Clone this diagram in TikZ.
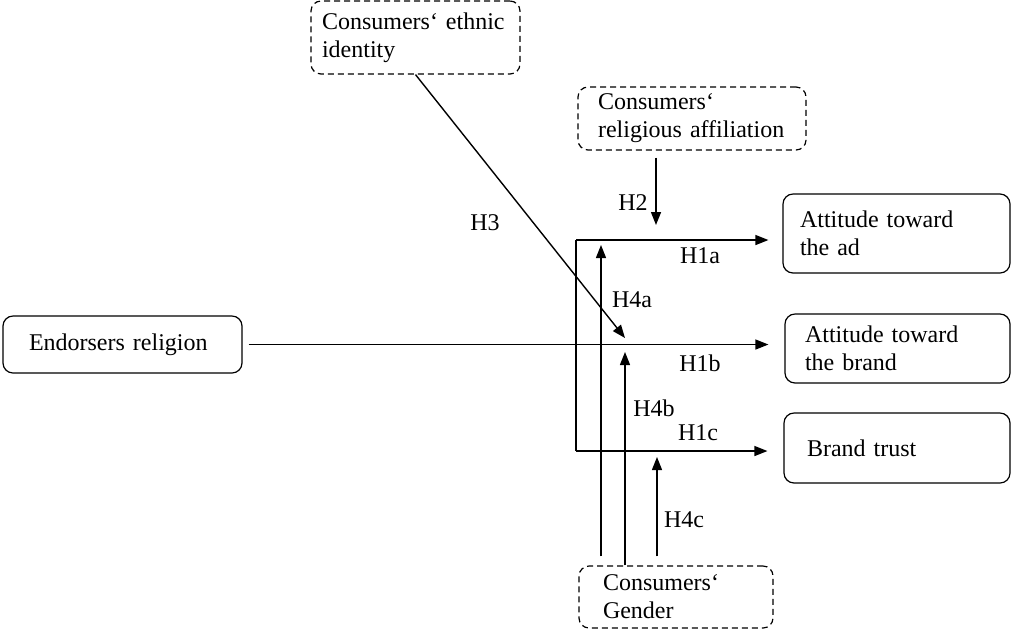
\documentclass[tikz,border=0pt]{standalone}
\usepackage{fontspec}
\setmainfont{Liberation Serif}
\usetikzlibrary{arrows.meta}

\begin{document}
\begin{tikzpicture}[x=0.5pt, y=-0.5pt,
    font=\fontsize{12}{14}\selectfont,
    box/.style={rectangle, draw, rounded corners=5pt, line width=0.6pt, align=left, inner ysep=1pt},
    dbox/.style={box, dash pattern=on 3pt off 2pt},
    arr/.style={-{Triangle[length=6.5pt,width=5pt]}, line width=0.7pt},
    lbl/.style={inner sep=0pt}]
    \useasboundingbox (0,0) rectangle (1011,634);

    % Draw nodes
    \node[dbox, text width=93.5pt, inner xsep=5.5pt, minimum height=36.5pt] (ethnic) at (415.5,37.5) {Consumers‘ ethnic\\identity};
    \node[dbox, text width=94pt, inner xsep=10pt, minimum height=31.5pt] (relig) at (692,118.5) {Consumers‘\\religious affiliation};
    \node[box, text width=93.5pt, inner xsep=13pt, minimum height=28.5pt] (endorse) at (122.5,344.5) {Endorsers religion};
    \node[box, text width=96.5pt, inner xsep=8.5pt, minimum height=39.5pt] (ad) at (896.5,233.5) {Attitude toward\\the ad};
    \node[box, text width=92.5pt, inner xsep=10pt, minimum height=34.5pt] (brand) at (897.5,348.5) {Attitude toward\\the brand};
    \node[box, text width=90pt, inner xsep=11.5pt, minimum height=35pt] (trust) at (897,448) {Brand trust};
    \node[dbox, text width=73pt, inner xsep=12pt, minimum height=31pt] (gender) at (676,597) {Consumers‘\\Gender};

    % Free ends
    \coordinate (bt) at (576,240);
    \coordinate (bb) at (576,451);
    \coordinate (h2e) at (656,225);
    \coordinate (h3e) at (625,338);
    \coordinate (g4a) at (601,245);
    \coordinate (g4b) at (625,352);
    \coordinate (g4c) at (657,457);

    % Draw connections
    \draw[line width=0.7pt] (bt) -- (bb);
    \draw[arr, shorten >=7pt] (bt) -- (bt -| ad.west);
    \draw[arr, shorten <=3pt, shorten >=8pt] (endorse.east) -- (endorse.east -| brand.west);
    \draw[arr, shorten >=8pt] (bb) -- (bb -| trust.west);
    \draw[arr, shorten <=3.5pt] (relig.south -| h2e) -- (h2e);
    \draw[arr] (ethnic.south) -- (h3e);
    \draw[arr, shorten <=4.5pt] (gender.north -| g4a) -- (g4a);
    \draw[arr] (gender.north -| g4b) -- (g4b);
    \draw[arr, shorten <=4.5pt] (gender.north -| g4c) -- (g4c);

    % Labels
    \node[lbl] (h1a) at (700,256) {H1a};
    \node[lbl] (h1b) at (700,363) {H1b};
    \node[lbl] (h1c) at (698,433) {H1c};
    \node[lbl] (h2) at (633,203) {H2};
    \node[lbl] (h3) at (485,223) {H3};
    \node[lbl] (h4a) at (632,300) {H4a};
    \node[lbl] (h4b) at (654,408) {H4b};
    \node[lbl] (h4c) at (684,520) {H4c};
\end{tikzpicture}
\end{document}
